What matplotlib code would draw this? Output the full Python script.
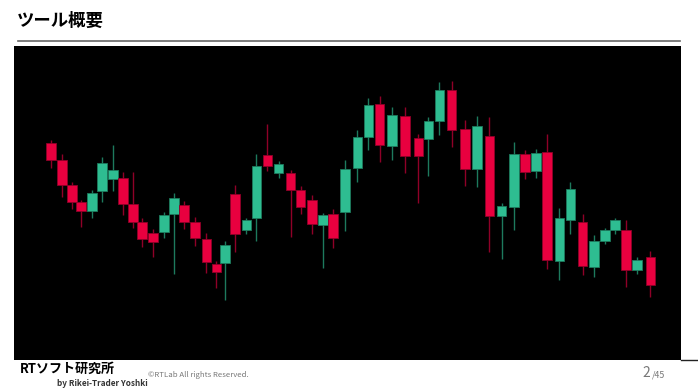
import numpy as np
import matplotlib.pyplot as plt
from matplotlib.patches import Rectangle

plt.rcParams['font.family'] = ['Noto Sans CJK JP', 'DejaVu Sans']

# bar times (the source chart is not evenly spaced) and OHLC
times = [0.0, 1.0, 1.9, 2.7, 3.7, 4.6, 5.6, 6.5, 7.4, 8.2,
         9.2, 10.2, 11.1, 12.0, 13.0, 14.0, 14.9, 15.7, 16.6, 17.6,
         18.5, 19.5, 20.5, 21.6, 22.5, 23.5, 24.5, 25.4, 26.5, 27.6,
         28.6, 29.6, 30.7, 31.9, 33.1, 34.0, 35.0, 36.1, 37.3, 38.4,
         39.5, 40.6, 41.7, 42.7, 43.7, 44.7, 45.8, 46.8, 47.9, 48.9,
         49.9, 50.8, 51.8, 52.8, 54.0]
opens = [217.3, 200.0, 174.7, 157.7, 149.3, 169.3, 181.3, 181.7, 156.0, 138.0,
         126.7, 128.3, 145.7, 154.7, 138.3, 121.3, 96.0, 97.3, 165.7, 130.3,
         141.7, 204.7, 186.7, 186.7, 170.0, 160.0, 135.3, 145.7, 148.0, 192.3,
         223.3, 255.7, 214.0, 244.0, 221.7, 221.3, 239.0, 270.0, 231.3, 191.3,
         224.3, 144.0, 153.3, 206.0, 189.3, 207.7, 99.3, 140.0, 137.7, 93.3,
         119.3, 130.0, 130.0, 90.0, 103.3]
highs = [220.0, 206.0, 178.0, 160.0, 170.0, 202.7, 215.0, 187.7, 187.7, 141.7,
         130.7, 148.3, 166.7, 159.3, 142.7, 126.7, 99.3, 118.7, 174.7, 142.3,
         206.0, 236.0, 199.0, 190.0, 174.0, 165.0, 146.7, 151.0, 200.0, 230.0,
         262.3, 264.3, 253.3, 253.3, 225.7, 243.0, 277.7, 279.3, 240.0, 244.0,
         243.3, 156.7, 218.0, 210.0, 210.7, 225.7, 151.7, 178.3, 146.0, 125.0,
         132.3, 142.3, 140.0, 103.3, 109.0]
lows = [192.3, 163.3, 151.0, 133.3, 142.3, 158.0, 169.3, 145.0, 131.7, 113.3,
        102.7, 121.7, 86.0, 131.0, 114.0, 86.7, 71.7, 60.0, 108.3, 126.0,
        119.0, 189.0, 182.0, 122.7, 145.7, 125.7, 91.7, 111.7, 129.3, 178.3,
        210.0, 198.3, 200.0, 186.7, 157.3, 184.0, 225.0, 212.7, 174.0, 172.7,
        108.3, 100.7, 130.0, 181.0, 182.3, 91.0, 80.0, 126.0, 85.0, 82.7,
        115.7, 126.0, 73.3, 86.0, 62.7]
closes = [200.0, 174.7, 158.0, 149.3, 166.7, 196.7, 190.0, 156.0, 138.3, 121.3,
          118.3, 145.3, 162.3, 138.3, 121.7, 98.0, 87.7, 114.7, 126.0, 140.0,
          194.0, 194.0, 196.0, 170.0, 153.3, 136.3, 144.7, 122.3, 190.7, 222.7,
          254.7, 215.0, 245.3, 204.0, 204.0, 239.0, 270.0, 230.0, 191.0, 234.0,
          144.0, 154.0, 206.0, 188.3, 207.3, 100.0, 141.7, 171.0, 94.3, 119.0,
          129.7, 140.3, 90.0, 100.0, 75.0]

up_col, up_edge = '#2ebd91', '#1d7a5d'
dn_col, dn_edge = '#e8003f', '#8f0028'
bar_w = 0.86

fig = plt.figure(figsize=(6.98, 3.92), dpi=100)
fig.patch.set_facecolor('white')

ax = fig.add_axes([14 / 698, 32 / 392, 667 / 698, 314.3 / 392])
ax.set_facecolor('black')
for t, o, h, l, c in zip(times, opens, highs, lows, closes):
    body, edge = (up_col, up_edge) if c >= o else (dn_col, dn_edge)
    ax.vlines(t, l, h, color=edge, lw=1.0, zorder=1)
    ax.add_patch(Rectangle((t - bar_w / 2, min(o, c)), bar_w, abs(c - o),
                           facecolor=body, edgecolor=edge, lw=0.6, zorder=2))
ax.set_xlim(-3.33, 56.76)
ax.set_ylim(0, 314.3)
ax.set_xticks([])
ax.set_yticks([])
for s in ax.spines.values():
    s.set_visible(False)

# slide decorations
fig.add_artist(plt.Line2D([18 / 698, 680 / 698], [1 - 40.5 / 392] * 2,
                          color='#666666', lw=1.2))
fig.add_artist(plt.Line2D([681 / 698, 1.0], [32 / 392] * 2, color='#222222', lw=1.0))
fig.text(17 / 698, 1 - 21 / 392, 'ツール概要', fontsize=12.5, fontweight='bold',
         va='center', ha='left')
fig.text(20 / 698, 1 - 369 / 392, 'RTソフト研究所', fontsize=9.4, fontweight='bold',
         va='center', ha='left')
fig.text(148 / 698, 1 - 383 / 392, 'by Rikei-Trader Yoshki', fontsize=5.9,
         fontweight='bold', va='center', ha='right', color='#333333')
fig.text(148 / 698, 1 - 375 / 392, '©RTLab All rights Reserved.', fontsize=5.6,
         va='center', ha='left', color='#777777')
fig.text(650 / 698, 1 - 373 / 392, '2', fontsize=10, va='center', ha='right',
         color='#777777')
fig.text(652 / 698, 1 - 375 / 392, '/45', fontsize=6.3, va='center', ha='left',
         color='#777777')

fig.savefig('out.png', dpi=100)
